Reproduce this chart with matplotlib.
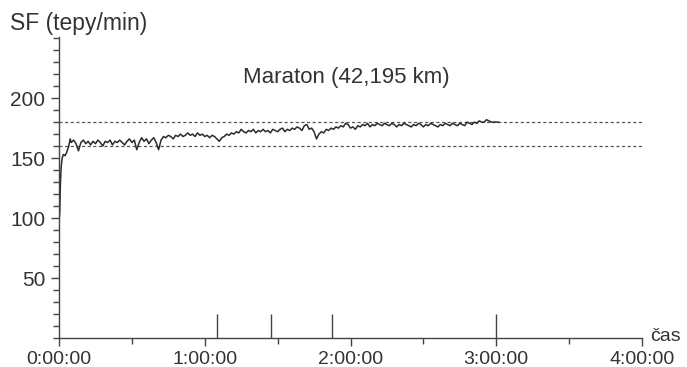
import matplotlib
matplotlib.use('Agg')
import matplotlib.pyplot as plt
from matplotlib.ticker import MultipleLocator, FixedLocator

# srdecna frekvencia pocas maratonu (cas v minutach, tepy/min)
start_min = [0, 0.3, 0.6, 0.9, 1.3, 1.8, 2.5, 3.2, 4.0, 4.6]
start_sf = [97, 105, 130, 143, 150, 153, 152, 155, 160, 166]

# od 5. minuty po minutach (5 .. 181)
beh_min = list(range(5, 182))
beh_sf = [163, 165, 162, 156, 163, 165, 162, 164, 161, 164,
          162, 165, 163, 160, 164, 163, 165, 161, 164, 163,
          165, 163, 161, 164, 166, 163, 165, 157, 163, 167,
          164, 166, 162, 165, 167, 163, 157, 165, 168, 167,
          169, 168, 166, 169, 168, 170, 168, 169, 171, 169,
          170, 168, 171, 169, 170, 168, 169, 167, 169, 168,
          166, 164, 167, 168, 170, 169, 171, 170, 172, 171,
          174, 172, 171, 173, 172, 174, 171, 173, 172, 174,
          172, 173, 171, 174, 173, 172, 174, 175, 172, 174,
          173, 175, 174, 176, 175, 173, 177, 178, 174, 175,
          172, 166, 170, 172, 171, 174, 173, 175, 174, 176,
          175, 177, 176, 179, 178, 175, 176, 174, 177, 176,
          178, 177, 179, 176, 178, 177, 179, 178, 177, 179,
          178, 177, 179, 178, 176, 178, 177, 179, 178, 177,
          176, 178, 177, 179, 178, 176, 178, 177, 179, 178,
          177, 176, 178, 177, 179, 178, 177, 179, 178, 177,
          179, 178, 177, 180, 179, 178, 180, 179, 181, 180,
          180, 182, 181, 180, 180, 180, 180]

cas_min = start_min + beh_min
sf = start_sf + beh_sf

znacky_min = [64.9, 87.1, 112.2, 180]
hranice = [160, 180]
x_ticks = [0, 60, 120, 180, 240]
x_labels = ['0:00:00', '1:00:00', '2:00:00', '3:00:00', '4:00:00']

plt.rcParams['font.family'] = ['Liberation Sans', 'DejaVu Sans']
text_col = '#333333'

fig = plt.figure(figsize=(6.87, 3.67), dpi=100)
ax = fig.add_axes([0.0859, 0.0790, 0.8486, 0.8203])

ax.hlines(hranice, 0, 240, colors='#555555', linestyles=(0, (2.5, 2)), linewidth=0.9)
ax.plot(cas_min, sf, color='#2b2b2b', linewidth=1.1)
ax.vlines(znacky_min, 0, 20, colors='#444444', linewidth=1.0)

ax.set_xlim(0, 240)
ax.set_ylim(0, 251)

ax.spines['top'].set_visible(False)
ax.spines['right'].set_visible(False)
for s in ['left', 'bottom']:
    ax.spines[s].set_color('#444444')
    ax.spines[s].set_linewidth(1.0)

ax.set_xticks(x_ticks)
ax.set_xticklabels(x_labels)
ax.xaxis.set_minor_locator(FixedLocator([30, 90, 150, 210]))
ax.set_yticks([50, 100, 150, 200])
ax.yaxis.set_minor_locator(MultipleLocator(10))
ax.tick_params(axis='both', which='major', length=6, width=1, color='#444444',
               labelcolor=text_col)
ax.tick_params(axis='x', which='major', labelsize=14, pad=3)
ax.tick_params(axis='y', which='major', labelsize=15, pad=4)
ax.tick_params(axis='both', which='minor', length=4, width=1, color='#444444')

ax.text(118.4, 217.5, 'Maraton (42,195 km)', ha='center', va='center',
        fontsize=16, color=text_col)
fig.text(0.014, 0.935, 'SF (tepy/min)', ha='left', va='center',
         fontsize=16.5, color=text_col)
ax.text(243.3, 1, 'čas', ha='left', va='center', fontsize=14,
        color=text_col, clip_on=False)

fig.savefig('out.png', dpi=100)
